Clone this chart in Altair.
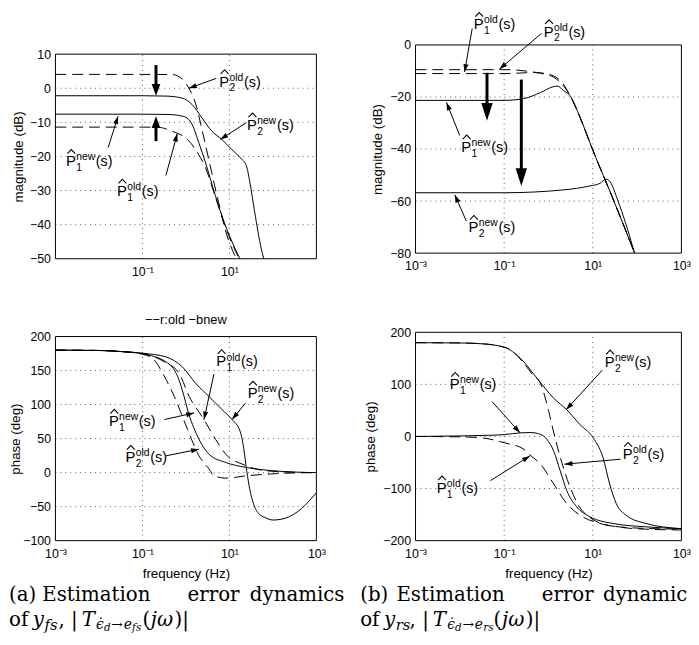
import math
import altair as alt
import pandas as pd

SANS = "Liberation Sans"
SERIF = "DejaVu Serif"

# ================= DATA =================
# (a) magnitude (dB) of y_fs
a_mag_p2old_f = [0.001, 0.1, 0.5, 0.69, 0.9, 1.17, 1.66, 2.34, 3.34, 5.6, 8.7, 14.5]
a_mag_p2old_v = [4.06, 4.06, 4.0, 3.4, 2.2, 0.0, -4.4, -12.1, -20.8, -33.3, -43.0, -50.0]
a_mag_p2new_f = [0.001, 0.1, 0.35, 0.82, 1.39, 2.34, 3.96, 6.7, 11.2, 19.1, 24.5, 29.5, 38.0, 53.7, 61.7]
a_mag_p2new_v = [-2.2, -2.2, -2.3, -2.9, -4.8, -8.7, -12.6, -15.0, -17.9, -20.8, -22.7, -27.5, -36.2, -46.9, -50.0]
a_mag_p1new_f = [0.001, 0.1, 0.41, 0.9, 1.39, 1.97, 2.8, 4.73, 8.0, 13.5, 17.4]
a_mag_p1new_v = [-7.6, -7.6, -7.7, -8.3, -10.6, -15.9, -21.7, -31.4, -40.1, -47.0, -50.0]
a_mag_p1old_f = [0.001, 0.1, 0.25, 0.4, 0.58, 1.0, 1.97, 2.8, 4.73, 8.0, 13.5, 17.0]
a_mag_p1old_v = [-11.4, -11.4, -11.5, -12.2, -13.0, -14.6, -19.5, -23.2, -31.8, -40.5, -47.5, -50.0]

# (b) magnitude (dB) of y_rs
b_mag_p2old_f = [0.001, 0.1, 0.17, 0.3, 0.42, 0.66, 1.3, 2.0, 3.1, 5.15, 9.8, 30.0, 87.0]
b_mag_p2old_v = [-9.5, -9.5, -9.6, -10.0, -10.4, -10.7, -11.9, -14.3, -19.6, -27.8, -40.0, -60.0, -79.8]
b_mag_p1old_f = [0.001, 0.1, 0.17, 0.3, 0.42, 0.66, 1.3, 2.0, 3.1, 5.15, 9.8, 30.0, 87.0]
b_mag_p1old_v = [-11.0, -11.0, -10.9, -10.7, -10.5, -10.9, -12.4, -15.0, -19.6, -27.8, -40.0, -60.0, -79.8]
b_mag_p1new_f = [0.001, 0.1, 0.28, 0.66, 1.2, 1.6, 2.2, 3.1, 5.15, 9.8, 30.0, 87.0]
b_mag_p1new_v = [-21.3, -21.3, -20.6, -18.3, -16.2, -15.8, -17.6, -19.6, -27.8, -40.0, -60.0, -79.8]
b_mag_p2new_f = [0.001, 0.1, 2.2, 8.5, 14.5, 20.0, 26.0, 34.0, 41.0, 60.0, 87.0]
b_mag_p2new_v = [-56.8, -56.8, -55.7, -54.2, -53.2, -51.6, -53.2, -58.2, -62.0, -70.5, -80.0]

# (a) phase (deg) of y_fs
a_ph_p2old_f = [0.001, 0.01, 0.0316, 0.1, 0.174, 0.316, 0.54, 1.09, 2.0, 3.4, 4.4, 8.1, 27.5, 93.0, 316.0, 1000.0]
a_ph_p2old_v = [180, 179.5, 178, 174, 167.6, 142, 111.8, 63.5, 24.7, 5.4, -4.4, -8.1, -4.4, -1.9, -0.5, 0]
a_ph_p2new_f = [0.001, 0.01, 0.0316, 0.1, 0.35, 0.84, 1.69, 3.4, 6.8, 11.5, 17.8, 21.4, 25.1, 29.5, 35.5, 46.8, 66.0, 100.0, 190.0, 457.0, 1000.0]
a_ph_p2new_v = [180, 179.5, 178, 175.5, 170, 155, 131, 111.8, 92.5, 78, 60, 35, 2, -25, -45, -60, -66, -69.7, -67.2, -52.7, -29.5]
a_ph_p1new_f = [0.001, 0.01, 0.0316, 0.1, 0.35, 0.65, 0.91, 1.09, 1.84, 3.4, 8.1, 23.4, 93.0, 316.0, 1000.0]
a_ph_p1new_v = [180, 179.5, 178, 174.5, 162.6, 140.8, 111.8, 92.5, 53.7, 27, 15, 7.8, 2.9, 0.8, 0]
a_ph_p1old_f = [0.001, 0.01, 0.0316, 0.1, 0.316, 0.7, 1.19, 2.6, 4.8, 8.9, 19.5, 66.0, 316.0, 1000.0]
a_ph_p1old_v = [180, 179.5, 178, 175, 163, 145.8, 111.8, 78, 49, 24.7, 12.6, 2.9, 0.5, 0]

# (b) phase (deg) of y_rs
b_ph_p2new_f = [0.001, 0.01, 0.03, 0.1, 0.236, 0.555, 1.31, 2.59, 5.15, 10.2, 17.0, 24.0, 33.9, 56.0, 158.0, 1000.0]
b_ph_p2new_v = [180, 179.5, 178, 171.5, 149.5, 111.5, 73.5, 51.3, 22.8, -2.5, -40.5, -91, -129, -151, -167, -177]
b_ph_p2old_f = [0.001, 0.01, 0.0316, 0.071, 0.158, 0.28, 0.447, 0.676, 1.0, 1.38, 2.0, 3.16, 5.0, 9.1, 14.5, 40.0, 158.0, 1000.0]
b_ph_p2old_v = [180, 179.5, 178, 174.5, 163, 140, 118, 100, 50, 0, -50, -100, -135, -157, -166, -174, -178, -179.5]
b_ph_p1new_f = [0.001, 0.01, 0.0316, 0.1, 0.236, 0.4, 0.555, 0.927, 1.31, 1.84, 2.59, 4.33, 8.6, 28.2, 158.0, 1000.0]
b_ph_p1new_v = [0, 1, 2, 3.5, 7, 7.5, 6, -5.7, -28, -66, -104, -135, -154, -167, -173.5, -177]
b_ph_p1old_f = [0.001, 0.01, 0.03, 0.1, 0.28, 0.363, 0.66, 1.31, 2.59, 5.13, 14.5, 63.0, 1000.0]
b_ph_p1old_v = [0, -0.8, -2.5, -12, -24.7, -34, -53, -91, -129, -151, -167, -175, -178]

# annotation anchors (frequency, value), superscripts, subscripts, arrows
a_mag_lab_f = [6.15, 26.9, 0.00184, 0.0275]
a_mag_lab_v = [0.5, -12.2, -22.9, -31.6]
a_mag_lab_sup = ["old", "new", "new", "old"]
a_mag_lab_sub = ["2", "2", "1", "1"]
a_mag_tail_f = [5.0, 24.5, 0.0163, 0.346]
a_mag_tail_v = [2.9, -10.1, -17.4, -25.6]
a_mag_tip_f = [1.17, 6.15, 0.0275, 0.634]
a_mag_tip_v = [0.0, -15.0, -8.2, -13.3]
a_mag_big_f = [0.205, 0.205]
a_mag_big_from = [6.8, -15.5]
a_mag_big_to = [-2.2, -8.2]

b_mag_lab_f = [0.0218, 0.822, 0.0114, 0.0166]
b_mag_lab_v = [6.0, 3.2, -41.1, -72.0]
b_mag_lab_sup = ["old", "old", "new", "new"]
b_mag_lab_sub = ["1", "2", "1", "2"]
b_mag_tail_f = [0.019, 0.695, 0.00993, 0.014]
b_mag_tail_v = [6.3, 4.4, -34.8, -67.7]
b_mag_tip_f = [0.0128, 0.078, 0.005, 0.0077]
b_mag_tip_v = [-10.4, -9.3, -22.1, -57.6]
b_mag_big_f = [0.041, 0.244]
b_mag_big_from = [-10.7, -13.3]
b_mag_big_to = [-29.1, -54.2]

a_ph_lab_f = [5.25, 27.7, 0.0179, 0.043]
a_ph_lab_v = [156, 109.5, 68.2, 15.1]
a_ph_lab_sup = ["old", "new", "new", "old"]
a_ph_lab_sub = ["1", "2", "1", "2"]
a_ph_tail_f = [4.42, 23.3, 0.32, 0.35]
a_ph_tail_v = [145, 102, 78, 24.7]
a_ph_tip_f = [2.6, 11.5, 1.55, 2.0]
a_ph_tip_v = [78, 78, 87.7, 34.4]

b_ph_lab_f = [19.6, 0.00625, 50.0, 0.00316]
b_ph_lab_v = [133.5, 90.6, -43.7, -108.3]
b_ph_lab_sup = ["new", "new", "old", "old"]
b_ph_lab_sub = ["2", "1", "2", "1"]
b_ph_tail_f = [16.4, 0.0533, 42.3, 0.0489]
b_ph_tail_v = [127.3, 67, -43.7, -84.9]
b_ph_tip_f = [2.5, 0.228, 2.3, 0.381]
b_ph_tip_v = [51.3, 7, -53.2, -37.4]

x_ticks_full = [0.001, 0.1, 10, 1000]
x_ticks_a_mag = [0.1, 10]
x_grid = [0.1, 10]

# ================= HELPERS =================
ONE = pd.DataFrame({"k": [0]})
LABEL_EXPR = ("datum.value < 0.01 ? '10\u207b\u00b3' : datum.value < 1 ? '10\u207b\u00b9' : "
              "datum.value < 100 ? '10\u00b9' : '10\u00b3'")
THIN_HEAD = "M0,0L-0.65,2L0.65,2Z"
HAT = "M0.1,-3.2L1.1,-4.25L2.1,-3.2"   # circumflex drawn above the P (units of 4 px)
CAP = 20


def ptext(txt, px, py, size, font=SERIF, italic=False, align="left", limit=None):
    kw = dict(text=txt, font=font, fontSize=size, align=align, baseline="alphabetic", color="black")
    if italic:
        kw["fontStyle"] = "italic"
    if limit is not None:
        kw["limit"] = limit
        kw["ellipsis"] = "\u200b"
    return alt.Chart(ONE).mark_text(**kw).encode(x=alt.value(px), y=alt.value(py))


def panel(W, VH, rng, ydom, yticks, xticks, ytitle, xtitle, curves, lab, arr, big=None,
          big_head=None, big_len=12, ytp=4, xoff=0, extras=()):
    r_bot, r_top = rng
    Hp = r_bot - r_top
    xs = alt.Scale(type="log", domain=[1e-3, 1e3], nice=False)
    ys = alt.Scale(domain=ydom, nice=False, zero=False, range=[r_bot, r_top])
    xax = alt.Axis(values=xticks, labelExpr=LABEL_EXPR, grid=False, ticks=False, domain=False,
                   labelPadding=7, titlePadding=7, labelFlush=False, offset=xoff)
    yax = alt.Axis(values=yticks, grid=False, ticks=False, domain=False, labelPadding=5,
                   titlePadding=ytp, titleY=(r_top + r_bot) / 2)

    def X(field):
        return alt.X(field, type="quantitative", scale=xs, axis=xax, title=xtitle)

    def Y(field):
        return alt.Y(field, type="quantitative", scale=ys, axis=yax, title=ytitle)

    def px(f):
        return (math.log10(f) + 3) / 6 * W

    def py(v):
        return (ydom[1] - v) / (ydom[1] - ydom[0]) * Hp

    # grid + frame
    gx = pd.DataFrame(dict(gx=x_grid, g1=[ydom[0]] * len(x_grid), g2=[ydom[1]] * len(x_grid)))
    inner_y = [t for t in yticks if ydom[0] < t < ydom[1]]
    gy = pd.DataFrame(dict(gy=inner_y, h1=[1e-3] * len(inner_y), h2=[1e3] * len(inner_y)))
    gstyle = dict(color="black", strokeWidth=0.8, strokeDash=[1, 4], opacity=0.8)
    gridx = alt.Chart(gx).mark_rule(**gstyle).encode(x=X("gx"), y=Y("g1"), y2="g2")
    gridy = alt.Chart(gy).mark_rule(**gstyle).encode(y=Y("gy"), x=X("h1"), x2="h2")
    fdf = pd.DataFrame(dict(fx1=[1e-3], fx2=[1e3], fy1=[ydom[0]], fy2=[ydom[1]]))
    frame = alt.Chart(fdf).mark_rect(fillOpacity=0, stroke="black", strokeWidth=1).encode(
        x=X("fx1"), x2="fx2", y=Y("fy1"), y2="fy2")

    rows = []
    for name, (fs, vs, style) in curves.items():
        for i, (f, v) in enumerate(zip(fs, vs)):
            rows.append(dict(curve=name, f=f, v=v, style=style, i=i))
    cdf = pd.DataFrame(rows)
    solid = alt.Chart(cdf[cdf["style"] == "solid"]).mark_line(
        color="black", strokeWidth=1, interpolate="monotone", clip=True
    ).encode(x=X("f"), y=Y("v"), detail="curve:N", order="i:Q")
    dashed = alt.Chart(cdf[cdf["style"] == "dashed"]).mark_line(
        color="black", strokeWidth=1, interpolate="monotone", clip=True, strokeDash=[11, 6]
    ).encode(x=X("f"), y=Y("v"), detail="curve:N", order="i:Q")

    # thin arrows
    tf, tv, hf, hv = arr
    angs = []
    for a, b, c, d in zip(tf, tv, hf, hv):
        dx = px(c) - px(a)
        dy = py(d) - py(b)
        angs.append(math.degrees(math.atan2(dx, -dy)) % 360)
    adf = pd.DataFrame(dict(tf=tf, tv=tv, hf=hf, hv=hv, ang=angs))
    shafts = alt.Chart(adf).mark_rule(color="black", strokeWidth=1).encode(
        x=X("tf"), y=Y("tv"), x2="hf", y2="hv")
    heads = alt.Chart(adf).mark_point(shape=THIN_HEAD, size=64, filled=True, color="black",
                                      opacity=1, strokeWidth=0).encode(
        x=X("hf"), y=Y("hv"), angle=alt.Angle("ang:Q", scale=None))

    # labels  P-hat with super/subscripts
    lf, lv, lsup, lsub = lab
    ldf = pd.DataFrame(dict(ax=lf, ay=lv, sup=lsup, sub=lsub))
    tk = dict(font=SANS, baseline="alphabetic", color="black")
    P = alt.Chart(ldf).mark_text(text="P", fontSize=15, align="left", dx=-1, **tk).encode(x=X("ax"), y=Y("ay"))
    hat = alt.Chart(ldf).mark_point(shape=HAT, size=64, filled=False, color="black", opacity=1,
                                    strokeWidth=1.1).encode(x=X("ax"), y=Y("ay"))
    sup = alt.Chart(ldf).mark_text(fontSize=10.5, align="left", dx=9.3, dy=-6, **tk).encode(
        x=X("ax"), y=Y("ay"), text="sup:N")
    sub = alt.Chart(ldf).mark_text(fontSize=10.5, align="left", dx=9.3, dy=4.8, **tk).encode(
        x=X("ax"), y=Y("ay"), text="sub:N")
    s_old = alt.Chart(ldf).transform_filter("datum.sup == 'old'").mark_text(
        text="(s)", fontSize=14.5, align="left", dx=24, **tk).encode(x=X("ax"), y=Y("ay"))
    s_new = alt.Chart(ldf).transform_filter("datum.sup == 'new'").mark_text(
        text="(s)", fontSize=14.5, align="left", dx=29.2, **tk).encode(x=X("ax"), y=Y("ay"))

    layers = [gridx, gridy, frame, solid, dashed, shafts, heads, P, hat, sup, sub, s_old, s_new]

    if big is not None:
        bf, bfrom, bto = big
        per = (ydom[1] - ydom[0]) / Hp
        ends, bang = [], []
        for a, b in zip(bfrom, bto):
            if b < a:
                ends.append(b + (big_len - 3) * per)
                bang.append(180)
            else:
                ends.append(b - (big_len - 3) * per)
                bang.append(0)
        bdf = pd.DataFrame(dict(bf=bf, top=bfrom, tip=bto, end=ends, ang=bang))
        bshaft = alt.Chart(bdf).mark_rule(color="black", strokeWidth=3).encode(
            x=X("bf"), y=Y("top"), y2="end")
        bhead = alt.Chart(bdf).mark_point(shape=big_head, size=64, filled=True, color="black",
                                          opacity=1, strokeWidth=0).encode(
            x=X("bf"), y=Y("tip"), angle=alt.Angle("ang:Q", scale=None))
        layers += [bshaft, bhead]

    layers += list(extras)
    return alt.layer(*layers).properties(width=W, height=VH)


def spacer(x1, x2, y):
    return alt.Chart(ONE).mark_rule(strokeOpacity=0, strokeWidth=1, color="white").encode(
        x=alt.value(x1), x2=alt.value(x2), y=alt.value(y))


def caption_line2(x0, y0, sub_txt):
    # of y_xx, |T_{eps-dot_d -> e_xx}(j omega)|
    parts = [("of", 0, 0, CAP, False), ("y", 24, 0, CAP, True), (sub_txt, 36, 4.2, 15, True),
             (", |", 50, 0, CAP, False), ("T", 73.5, 0, CAP, True),
             ("\u03f5\u0307", 88, 3, 14, True), ("d", 96, 5.5, 10.5, True),
             ("\u2192", 103.5, 3, 14, False), ("e", 116, 3, 14, True),
             (sub_txt, 124.5, 5.5, 10.5, True),
             ("(", 135, 0, CAP, False), ("j\u03c9", 143.5, 0, CAP, True), (")|", 167.5, 0, CAP, False)]
    return [ptext(t, x0 + dx, y0 + dy, s, italic=it) for t, dx, dy, s, it in parts]


# ================= LAYOUT =================
W_L, W_R = 264, 269
TOP_VH = 216.3
BOT_VH = 210.8

TL = panel(W_L, TOP_VH, (216.3, 9.3), [-50, 10], [-50, -40, -30, -20, -10, 0, 10], x_ticks_a_mag,
           "magnitude (dB)", None,
           {"p2old": (a_mag_p2old_f, a_mag_p2old_v, "dashed"),
            "p1old": (a_mag_p1old_f, a_mag_p1old_v, "dashed"),
            "p2new": (a_mag_p2new_f, a_mag_p2new_v, "solid"),
            "p1new": (a_mag_p1new_f, a_mag_p1new_v, "solid")},
           (a_mag_lab_f, a_mag_lab_v, a_mag_lab_sup, a_mag_lab_sub),
           (a_mag_tail_f, a_mag_tail_v, a_mag_tip_f, a_mag_tip_v),
           big=(a_mag_big_f, a_mag_big_from, a_mag_big_to),
           big_head="M0,0L-1.1,3L1.1,3Z", big_len=12, ytp=4,
           extras=[spacer(-47, 0, 20)])

TR = panel(W_R, TOP_VH, (210.6, 0), [-80, 0], [-80, -60, -40, -20, 0], x_ticks_full,
           "magnitude (dB)", None,
           {"p2old": (b_mag_p2old_f, b_mag_p2old_v, "dashed"),
            "p1old": (b_mag_p1old_f, b_mag_p1old_v, "dashed"),
            "p2new": (b_mag_p2new_f, b_mag_p2new_v, "solid"),
            "p1new": (b_mag_p1new_f, b_mag_p1new_v, "solid")},
           (b_mag_lab_f, b_mag_lab_v, b_mag_lab_sup, b_mag_lab_sub),
           (b_mag_tail_f, b_mag_tail_v, b_mag_tip_f, b_mag_tip_v),
           big=(b_mag_big_f, b_mag_big_from, b_mag_big_to),
           big_head="M0,0L-1.44,4.5L1.44,4.5Z", big_len=18, ytp=5, xoff=-5.7,
           extras=[spacer(0, 10, -36)])

# captions (a)  -- relative to BL view (page origin 55, 331.7)
la1, la2 = 271.6, 296.8
cap_a = [ptext(t, x, la1, CAP) for t, x in
         [("(a)", -47), ("Estimation", -13.3), ("error", 133.7), ("dynamics", 196.7)]]
cap_a += caption_line2(-47, la2, "fs")
cap_a.append(ptext("\u2212\u2212r:old \u2212bnew", W_L / 2, -8.4, 13, font=SANS, align="center"))

BL = panel(W_L, BOT_VH, (210.8, 4.3), [-100, 200], [-100, -50, 0, 50, 100, 150, 200], x_ticks_full,
           "phase (deg)", "frequency (Hz)",
           {"p2old": (a_ph_p2old_f, a_ph_p2old_v, "dashed"),
            "p1old": (a_ph_p1old_f, a_ph_p1old_v, "dashed"),
            "p2new": (a_ph_p2new_f, a_ph_p2new_v, "solid"),
            "p1new": (a_ph_p1new_f, a_ph_p1new_v, "solid")},
           (a_ph_lab_f, a_ph_lab_v, a_ph_lab_sup, a_ph_lab_sub),
           (a_ph_tail_f, a_ph_tail_v, a_ph_tip_f, a_ph_tip_v),
           ytp=0, extras=cap_a)

# captions (b) -- relative to BR view (page origin 419.3, 331.7)
cap_b = [ptext(t, x, la1, CAP, limit=lim) for t, x, lim in
         [("(b)", -56, None), ("Estimation", -19.3, None), ("error", 127.7, None), ("dynamics", 189.7, 86)]]
cap_b += caption_line2(-56, la2, "rs")

BR = panel(W_R, BOT_VH, (210.8, 0), [-200, 200], [-200, -100, 0, 100, 200], x_ticks_full,
           "phase (deg)", "frequency (Hz)",
           {"p2old": (b_ph_p2old_f, b_ph_p2old_v, "dashed"),
            "p1old": (b_ph_p1old_f, b_ph_p1old_v, "dashed"),
            "p2new": (b_ph_p2new_f, b_ph_p2new_v, "solid"),
            "p1new": (b_ph_p1new_f, b_ph_p1new_v, "solid")},
           (b_ph_lab_f, b_ph_lab_v, b_ph_lab_sup, b_ph_lab_sub),
           (b_ph_tail_f, b_ph_tail_v, b_ph_tip_f, b_ph_tip_v),
           ytp=5, extras=cap_b)

chart = alt.concat(
    TL, TR, BL, BR, columns=2, bounds="flush", align="each",
    spacing={"row": 73.7, "column": 100.3}
).properties(
    padding={"left": 0, "top": -2.3, "right": 0, "bottom": 0}
).configure(font=SANS).configure_view(
    strokeWidth=0
).configure_axis(
    labelFont=SANS, labelFontSize=12.5, labelColor="black",
    titleFont=SANS, titleFontSize=13.5, titleFontWeight="normal", titleColor="black"
)

chart.save("out.html", embed_options={"renderer": "svg", "actions": False})
